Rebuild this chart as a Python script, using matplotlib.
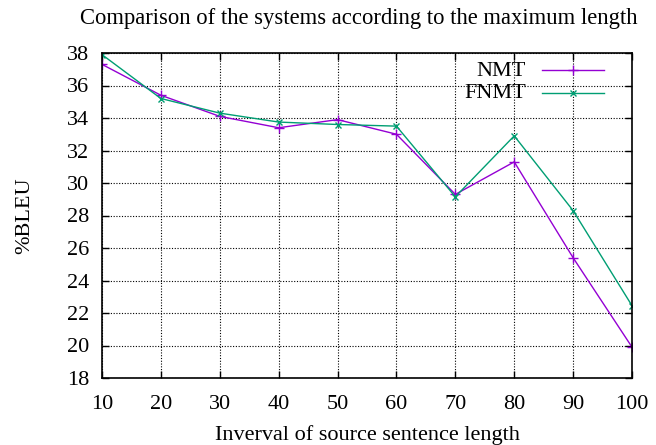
import matplotlib
matplotlib.use("Agg")
import matplotlib.pyplot as plt
from matplotlib.lines import Line2D

lengths = [10, 20, 30, 40, 50, 60, 70, 80, 90, 100]
nmt = [37.3, 35.4, 34.1, 33.4, 33.9, 33.0, 29.3, 31.3, 25.4, 19.9]
fnmt = [37.9, 35.2, 34.3, 33.75, 33.6, 33.5, 29.15, 32.9, 28.3, 22.45]
yticks = [18, 20, 22, 24, 26, 28, 30, 32, 34, 36, 38]

plt.rcParams['font.family'] = ['Liberation Serif', 'DejaVu Serif']

fig = plt.figure(figsize=(6.56, 4.45), dpi=100)
ax = fig.add_axes([102/656, 1-378/445, (632-102)/656, (378-53)/445])

c1 = '#9400d3'
c2 = '#009e73'
ax.plot(lengths, nmt, color=c1, lw=1.0, marker='+', ms=7, mew=1.0)
ax.plot(lengths, fnmt, color=c2, lw=1.0, marker='x', ms=5, mew=1.0)

ax.set_xlim(10, 100)
ax.set_ylim(18, 38)
ax.set_xticks(lengths)
ax.set_yticks(yticks)
ax.tick_params(direction='in', length=5, width=1, top=True, right=True,
               labelsize=16, colors='black')
ax.tick_params(axis='y', pad=9)
ax.tick_params(axis='x', pad=12)
ax.grid(True, color='black', linestyle=(0, (1, 1.5)), linewidth=0.8)
for s in ax.spines.values():
    s.set_linewidth(1.2)

ax.set_title('Comparison of the systems according to the maximum length', fontsize=16.3, pad=21, x=0.485)
ax.set_xlabel('Inverval of source sentence length', fontsize=16, labelpad=8)
ax.set_ylabel('%BLEU', fontsize=16, labelpad=24)

# legend (gnuplot style: right-aligned text followed by sample)
tr = ax.transAxes
def px2ax(x, y):
    return ((x - 102) / 530, (378 - y) / 325)
for label, col, mk, ms, yy in [('NMT', c1, '+', 7, 71), ('FNMT', c2, 'x', 5, 93.5)]:
    tx, ty = px2ax(526, yy)
    ax.text(tx, ty, label, transform=tr, ha='right', va='center', fontsize=16)
    x0, _ = px2ax(542, yy - 1)
    x1, _ = px2ax(604, yy - 1)
    xm, _ = px2ax(573, yy - 1)
    _, ly = px2ax(0, yy - 1)
    ax.add_line(Line2D([x0, x1], [ly, ly], color=col, lw=1.0, transform=tr))
    ax.add_line(Line2D([xm], [ly], color=col, marker=mk, ms=ms, mew=1.0, transform=tr))

fig.savefig('out.png', dpi=100)
